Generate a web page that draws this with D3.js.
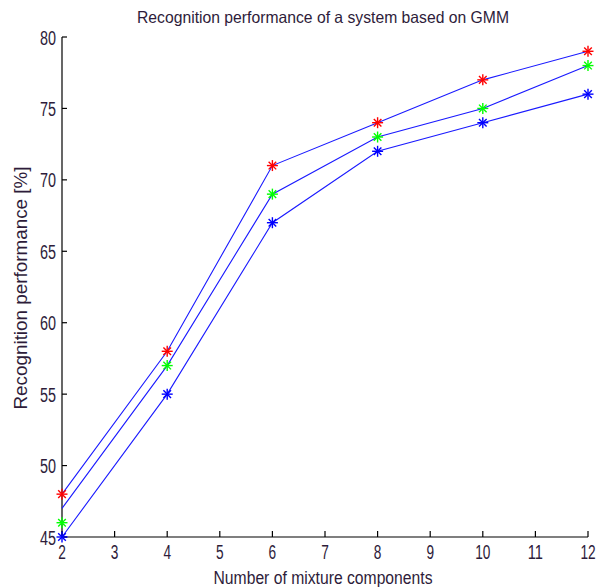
<!DOCTYPE html>
<html>
<head>
<meta charset="utf-8">
<script src="https://cdn.jsdelivr.net/npm/d3@7"></script>
<style>
  html, body { margin: 0; padding: 0; background: #fff; }
  svg { display: block; }
  text { font-family: "Liberation Sans", Arial, sans-serif; fill: #2e1c3a; }
</style>
</head>
<body>
<svg id="chart" width="596" height="587"></svg>
<script>
const mixtures = [2, 4, 6, 8, 10, 12];
// line paths (blue lines)
const lineTop    = [48, 58, 71, 74, 77, 79];
const lineMiddle = [47, 57, 69, 73, 75, 78];
const lineBottom = [45, 55, 67, 72, 74, 76];
// star markers
const redMarkers   = [48, 58, 71, 74, 77, 79];
const greenMarkers = [46, 57, 69, 73, 75, 78];
const blueMarkers  = [45, 55, 67, 72, 74, 76];

const xTicks = [2, 3, 4, 5, 6, 7, 8, 9, 10, 11, 12];
const yTicks = [45, 50, 55, 60, 65, 70, 75, 80];

const titleText = "Recognition performance of a system based on GMM";
const xLabelText = "Number of mixture components";
const yLabelText = "Recognition performance [%]";

const svg = d3.select("#chart");
const x = d3.scaleLinear().domain([2, 12]).range([62, 588]);
const y = d3.scaleLinear().domain([45, 80]).range([537, 37]);

// axes lines
const axisColor = "#000";
svg.append("line").attr("x1", x(2)).attr("x2", x(2)).attr("y1", y(80)).attr("y2", y(45))
  .attr("stroke", axisColor).attr("stroke-width", 1.2);
svg.append("line").attr("x1", x(2)).attr("x2", x(12)).attr("y1", y(45)).attr("y2", y(45))
  .attr("stroke", axisColor).attr("stroke-width", 1.2);

// y ticks (inward)
svg.append("g").selectAll("line").data(yTicks).join("line")
  .attr("x1", x(2)).attr("x2", x(2) + 5)
  .attr("y1", d => y(d)).attr("y2", d => y(d))
  .attr("stroke", axisColor).attr("stroke-width", 1.2);
svg.append("g").selectAll("text").data(yTicks).join("text")
  .attr("x", x(2) - 6).attr("y", d => y(d) + 7.5)
  .attr("text-anchor", "end")
  .attr("font-size", 20)
  .attr("textLength", d => String(d).length * 8)
  .attr("lengthAdjust", "spacingAndGlyphs")
  .text(d => d);

// x ticks (inward)
svg.append("g").selectAll("line").data(xTicks).join("line")
  .attr("x1", d => x(d)).attr("x2", d => x(d))
  .attr("y1", y(45)).attr("y2", y(45) - 6)
  .attr("stroke", axisColor).attr("stroke-width", 1.2);
svg.append("g").selectAll("text").data(xTicks).join("text")
  .attr("x", d => x(d)).attr("y", 559)
  .attr("text-anchor", "middle")
  .attr("font-size", 20)
  .attr("textLength", d => String(d).length * 7.6)
  .attr("lengthAdjust", "spacingAndGlyphs")
  .text(d => d);

// lines
const lineGen = d3.line().x((d, i) => x(mixtures[i])).y(d => y(d));
[lineTop, lineMiddle, lineBottom].forEach(arr => {
  svg.append("path").datum(arr)
    .attr("d", lineGen)
    .attr("fill", "none")
    .attr("stroke", "#1a1aff")
    .attr("stroke-width", 1.1);
});

// star markers
function star(g, color) {
  const r = 5.5, q = 3.8;
  g.append("line").attr("x1", -r).attr("x2", r).attr("y1", 0).attr("y2", 0);
  g.append("line").attr("x1", 0).attr("x2", 0).attr("y1", -r).attr("y2", r);
  g.append("line").attr("x1", -q).attr("x2", q).attr("y1", -q).attr("y2", q);
  g.append("line").attr("x1", -q).attr("x2", q).attr("y1", q).attr("y2", -q);
  g.selectAll("line").attr("stroke", color).attr("stroke-width", 1.4);
}
[[redMarkers, "#ff0000"], [greenMarkers, "#00ff00"], [blueMarkers, "#0000ff"]].forEach(([arr, color]) => {
  svg.append("g").selectAll("g").data(arr).join("g")
    .attr("transform", (d, i) => `translate(${x(mixtures[i])},${y(d)})`)
    .each(function () { star(d3.select(this), color); });
});

// title
svg.append("text").attr("x", 323).attr("y", 23)
  .attr("text-anchor", "middle").attr("font-size", 16.5)
  .attr("textLength", 372).attr("lengthAdjust", "spacingAndGlyphs")
  .text(titleText);

// x label
svg.append("text").attr("x", 323).attr("y", 584)
  .attr("text-anchor", "middle").attr("font-size", 18)
  .attr("textLength", 219).attr("lengthAdjust", "spacingAndGlyphs")
  .text(xLabelText);

// y label
svg.append("text")
  .attr("transform", "translate(27,288) rotate(-90)")
  .attr("text-anchor", "middle").attr("font-size", 18)
  .attr("textLength", 243).attr("lengthAdjust", "spacingAndGlyphs")
  .text(yLabelText);
</script>
</body>
</html>
